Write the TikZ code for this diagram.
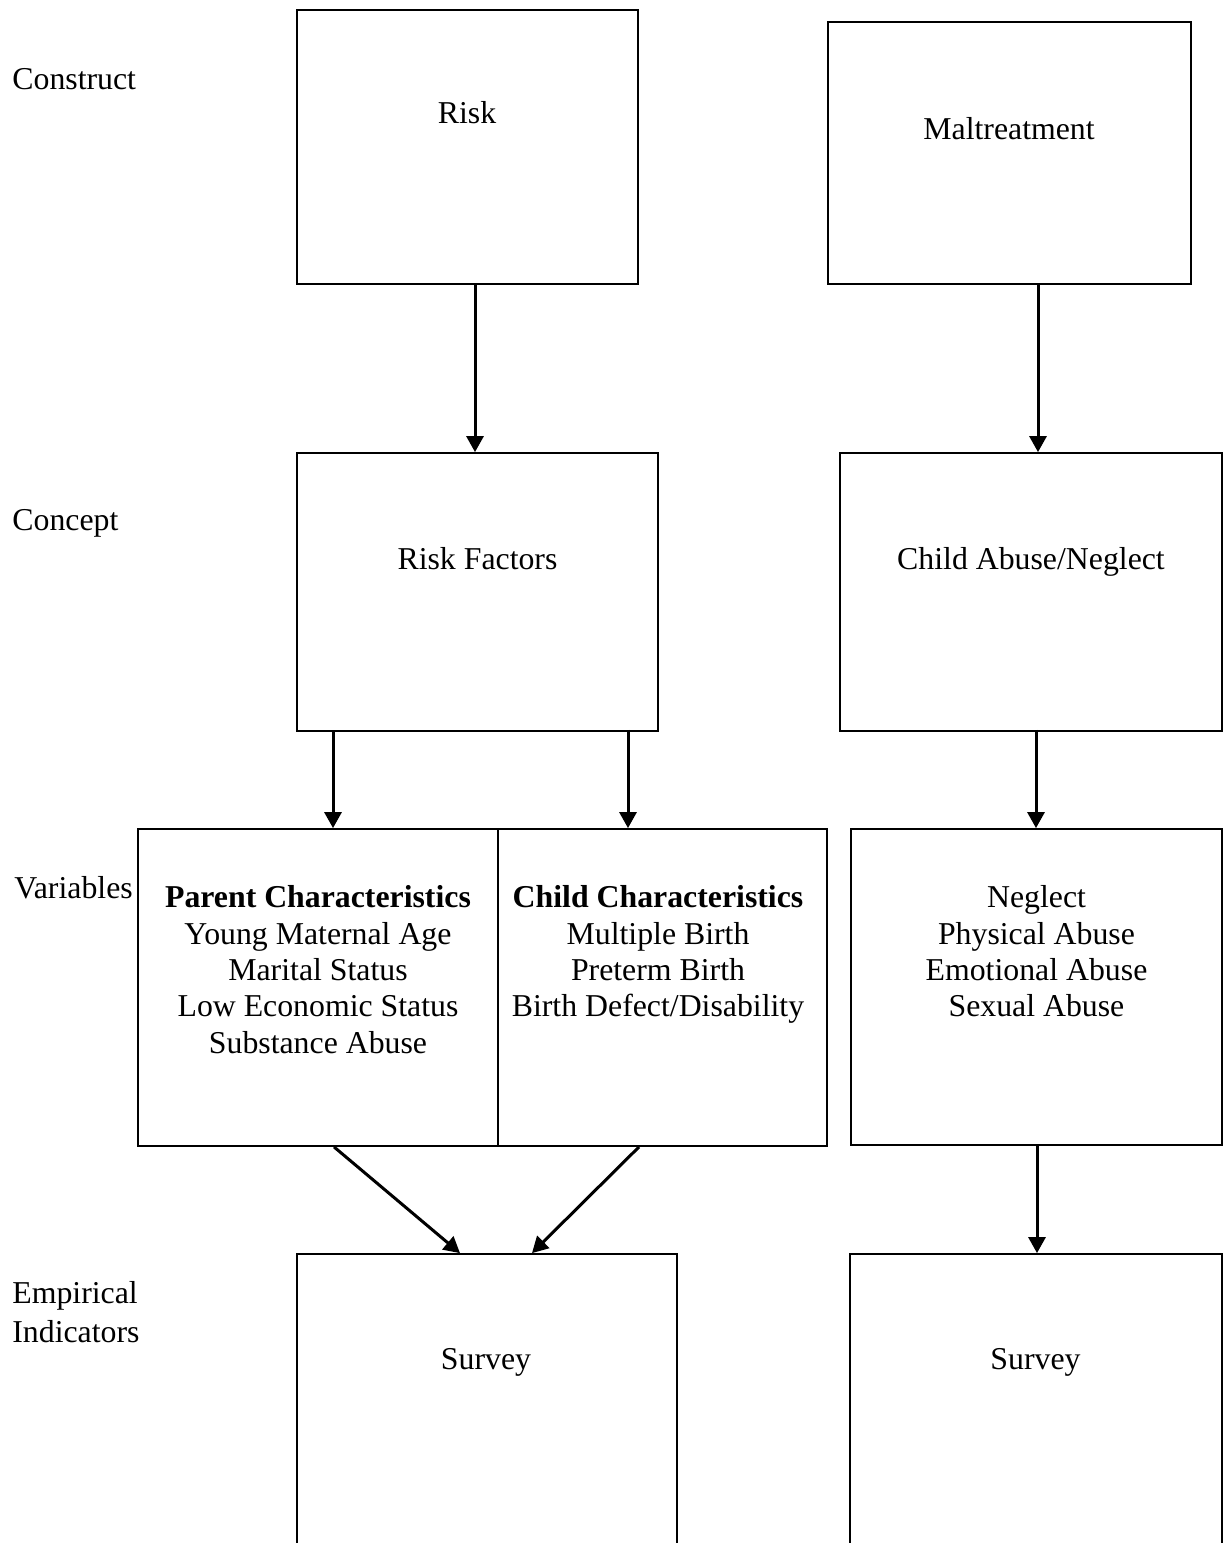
\documentclass[tikz,border=0pt]{standalone}
\usepackage{fontspec}
\setmainfont{Liberation Serif}
\usetikzlibrary{arrows.meta}
\begin{document}
\begin{tikzpicture}[x=0.5pt,y=-0.5pt,
  box/.style={draw=black, line width=0.9pt, inner sep=0pt},
  txt/.style={inner sep=0pt, font=\fontsize{15.9pt}{18.15pt}\selectfont},
  lst/.style={txt, align=center, anchor=north},
  arr/.style={line width=1.5pt, -{Triangle[width=8.5pt,length=8pt]}}]
\useasboundingbox (0,0) rectangle (1227,1543);
\clip (0,0) rectangle (1227,1543);
% boxes
\node[box, minimum width=170.5pt, minimum height=137pt] (risk) at (467.5,147) {};
\node[box, minimum width=181.5pt, minimum height=131pt] (malt) at (1009.5,153) {};
\node[box, minimum width=180.5pt, minimum height=139pt] (rf) at (477.5,592) {};
\node[box, minimum width=191pt, minimum height=139pt] (cab) at (1031,592) {};
\node[box, minimum width=180pt, minimum height=158.5pt] (parent) at (318,987.5) {};
\node[box, minimum width=164.5pt, minimum height=158.5pt] (child) at (662.5,987.5) {};
\node[box, minimum width=185.5pt, minimum height=158pt] (varr) at (1036.5,987) {};
\node[box, minimum width=190pt, minimum height=173pt] (survl) at (487,1427) {};
\node[box, minimum width=186pt, minimum height=173pt] (survr) at (1036,1427) {};
% box texts
\node[txt, anchor=base] (risktxt) at (467,123) {Risk};
\node[txt, anchor=base] (malttxt) at (1009,139) {Maltreatment};
\node[txt, anchor=base] (rftxt) at (477.5,569) {Risk Factors};
\node[txt, anchor=base] (cabtxt) at (1031,569) {Child Abuse/Neglect};
\node[lst] (parenttxt) at (318,885.5) {\textbf{Parent Characteristics}\\Young Maternal Age\\Marital Status\\Low Economic Status\\Substance Abuse};
\node[lst] (childtxt) at (658,885.5) {\textbf{Child Characteristics}\\Multiple Birth\\Preterm Birth\\Birth Defect/Disability};
\node[lst] (varrtxt) at (1036.5,885.3) {Neglect\\Physical Abuse\\Emotional Abuse\\Sexual Abuse};
\node[txt, anchor=base] (survltxt) at (486,1369) {Survey};
\node[txt, anchor=base] (survrtxt) at (1035.5,1369) {Survey};
% level labels
\node[txt, anchor=base west] (construct) at (12,89) {Construct};
\node[txt, anchor=base west] (concept) at (12,530) {Concept};
\node[txt, anchor=base west] (variables) at (14,898) {Variables};
\node[txt, anchor=base west] (empirical) at (12,1303) {Empirical};
\node[txt, anchor=base west] (indicators) at (12,1342) {Indicators};
% arrows
\draw[arr] ([xshift=3.75pt]risk.south) -- ([xshift=-1.25pt]rf.north);
\draw[arr] ([xshift=14.25pt]malt.south) -- ([xshift=3.5pt]cab.north);
\draw[arr] ([xshift=-72.25pt]rf.south) -- ([xshift=7.5pt]parent.north);
\draw[arr] ([xshift=75.25pt,yshift=1pt]rf.south) -- ([xshift=-17.25pt]child.north);
\draw[arr] ([xshift=2.5pt,yshift=1pt]cab.south) -- ([xshift=-0.25pt]varr.north);
\draw[arr] ([xshift=8pt]parent.south) -- ([xshift=-13.5pt]survl.north);
\draw[arr] ([xshift=-11.75pt]child.south) -- ([xshift=22.5pt]survl.north);
\draw[arr] ([xshift=0.25pt]varr.south) -- ([xshift=0.5pt]survr.north);
\end{tikzpicture}
\end{document}
